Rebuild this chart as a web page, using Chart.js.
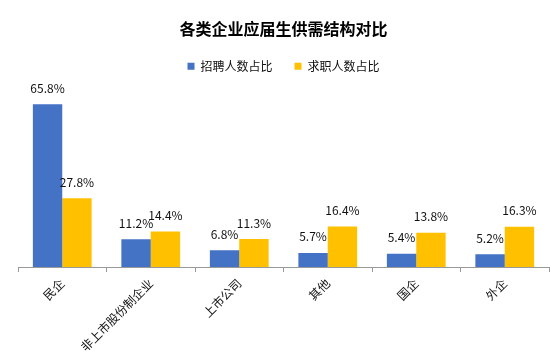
<!DOCTYPE html>
<html><head><meta charset="utf-8">
<script src="https://cdn.jsdelivr.net/npm/chart.js@4.4.0/dist/chart.umd.min.js"></script>
<style>html,body{margin:0;padding:0;background:#fff}#wrap{width:550px;height:360px}</style>
</head><body><div id="wrap"><canvas id="c" width="550" height="360"></canvas></div>
<script>
const categories = ['民企','非上市股份制企业','上市公司','其他','国企','外企'];
const seriesNames = ['招聘人数占比','求职人数占比'];
const recruitValues = [65.8, 11.2, 6.8, 5.7, 5.4, 5.2];
const jobseekValues = [27.8, 14.4, 11.3, 16.4, 13.8, 16.3];
const FONT = '"Noto Sans CJK SC", "Microsoft YaHei", sans-serif';

const labelPlugin = {
  id: 'valLabels',
  afterDatasetsDraw(chart) {
    const ctx = chart.ctx;
    ctx.save();
    ctx.font = '12px ' + FONT;
    ctx.fillStyle = '#111';
    ctx.textAlign = 'center';
    ctx.textBaseline = 'middle';
    chart.data.datasets.forEach((ds, i) => {
      const meta = chart.getDatasetMeta(i);
      meta.data.forEach((el, j) => {
        ctx.fillText(ds.data[j].toFixed(1) + '%', el.x, el.y - 16);
      });
    });
    ctx.restore();
  }
};

new Chart(document.getElementById('c'), {
  type: 'bar',
  data: {
    labels: categories,
    datasets: [
      { label: seriesNames[0], data: recruitValues, backgroundColor: '#4472C4' },
      { label: seriesNames[1], data: jobseekValues, backgroundColor: '#FFC000' }
    ]
  },
  options: {
    responsive: false,
    animation: false,
    devicePixelRatio: 1,
    datasets: { bar: { categoryPercentage: 0.664, barPercentage: 1.0, borderWidth: 0 } },
    layout: { padding: { left: 18, right: 1, top: 0, bottom: 0 } },
    plugins: {
      title: { display: true, text: '各类企业应届生供需结构对比', color: '#000',
        font: { family: FONT, size: 16, weight: 'bold' }, padding: { top: 19, bottom: 0 } },
      legend: { display: true, position: 'top',
        labels: { boxWidth: 7, boxHeight: 7, color: '#111', padding: 22,
          font: { family: FONT, size: 12 } } },
      tooltip: { enabled: false }
    },
    scales: {
      x: {
        border: { display: true, color: '#999' },
        grid: { display: true, drawOnChartArea: false, color: '#999', tickLength: 5, offset: true },
        ticks: { minRotation: 45, maxRotation: 45, color: '#111', font: { family: FONT, size: 12 }, padding: 4 },
        afterFit(scale) { scale.height = 93; }
      },
      y: { display: false, min: 0, max: 74.7 }
    }
  },
  plugins: [labelPlugin]
});
</script></body></html>
